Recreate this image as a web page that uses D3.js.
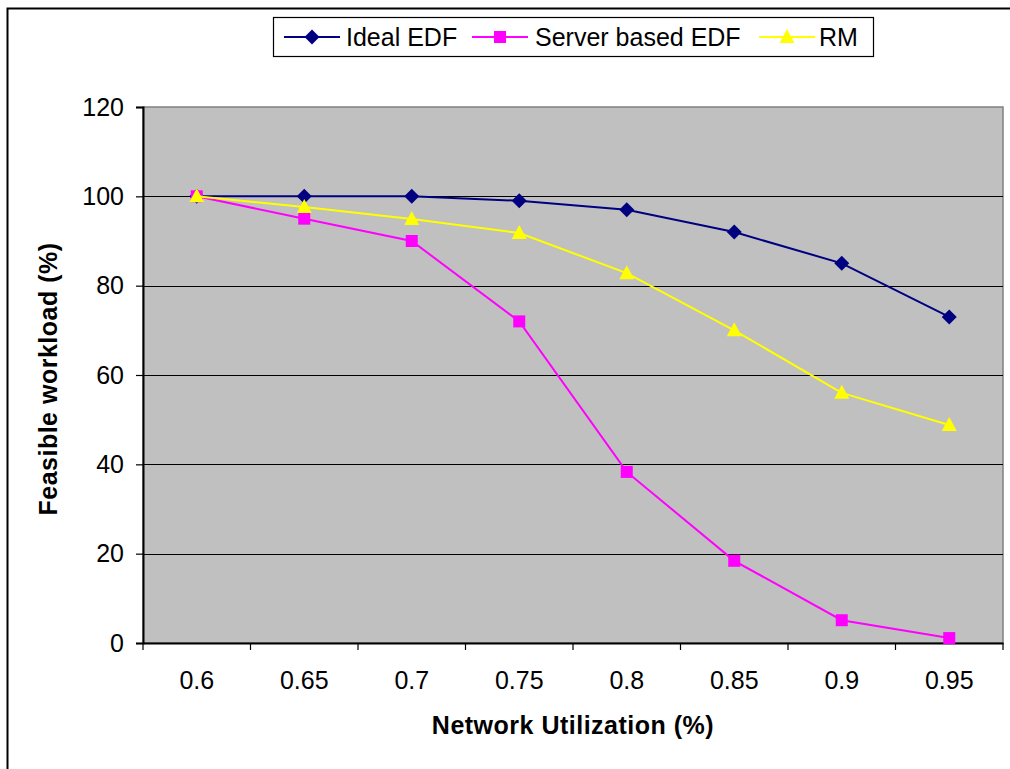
<!DOCTYPE html>
<html><head><meta charset="utf-8">
<script src="https://cdn.jsdelivr.net/npm/d3@7"></script>
<style>body{margin:0;background:#fff}svg{display:block}text{font-family:"Liberation Sans",Arial,sans-serif}</style>
</head><body>
<svg id="c" width="1010" height="769"></svg>
<script>
const categories = ["0.6","0.65","0.7","0.75","0.8","0.85","0.9","0.95"];
const idealEDF = [100,100,100,99,97,92,85,73];
const serverEDF = [100,95,90,72,38.3,18.4,5.1,1.1];
const rmValues = [100,97.6,94.9,91.8,82.8,70,56,48.8];
const yTicks = [0,20,40,60,80,100,120];
const seriesNames = ["Ideal EDF","Server based EDF","RM"];

const series = [
  {name:seriesNames[0], values:idealEDF, color:"#000080", marker:"diamond"},
  {name:seriesNames[1], values:serverEDF, color:"#FF00FF", marker:"square"},
  {name:seriesNames[2], values:rmValues, color:"#FFFF00", marker:"triangle"}
];

const svg = d3.select("#c");
const L=143, R=1003, T=107, B=643;
const FF = "Liberation Sans, Arial, sans-serif";

// outer border
svg.append("rect").attr("x",7.5).attr("y",8.5).attr("width",1100).attr("height",900)
  .attr("fill","none").attr("stroke","#000").attr("stroke-width",2);

const x = d3.scaleBand().domain(categories).range([L,R]).padding(0);
const y = d3.scaleLinear().domain([0,120]).range([B,T]);

svg.append("rect").attr("x",L).attr("y",T).attr("width",R-L).attr("height",B-T)
  .attr("fill","#C0C0C0").attr("stroke","#808080").attr("stroke-width",1.5);

// gridlines
svg.append("g").selectAll("line").data(yTicks.filter(d=>d>0&&d<120)).join("line")
  .attr("x1",L).attr("x2",R).attr("y1",d=>Math.round(y(d))+0.5).attr("y2",d=>Math.round(y(d))+0.5)
  .attr("stroke","#000").attr("stroke-width",1.2);

// y axis
const yAxis = svg.append("g").attr("transform",`translate(${L},0)`)
  .call(d3.axisLeft(y).tickValues(yTicks).tickSize(7).tickPadding(12).tickFormat(d3.format("d")));
yAxis.select(".domain").attr("stroke","#000").attr("stroke-width",2);
yAxis.selectAll(".tick line").attr("stroke","#000").attr("stroke-width",1.2);
yAxis.selectAll("text").attr("font-size",25).attr("fill","#000").attr("font-family",FF);

// x axis
const xAxis = svg.append("g").attr("transform",`translate(0,${B})`)
  .call(d3.axisBottom(x).tickSize(0).tickPadding(28));
xAxis.select(".domain").attr("stroke","#000").attr("stroke-width",2);
xAxis.selectAll("text").attr("font-size",25).attr("fill","#000").attr("font-family",FF);
// x tick marks at category boundaries
const bounds = categories.map(c=>x(c)).concat([x(categories[categories.length-1])+x.bandwidth()]);
svg.append("g").selectAll("line").data(bounds).join("line")
  .attr("x1",d=>d).attr("x2",d=>d).attr("y1",B).attr("y2",B+7)
  .attr("stroke","#000").attr("stroke-width",1.2);

// axis titles
svg.append("text").attr("x",(L+R)/2).attr("y",734).attr("text-anchor","middle")
  .attr("font-size",25).attr("font-weight","bold").attr("letter-spacing",0.5).text("Network Utilization (%)");
svg.append("text").attr("transform",`translate(57,379) rotate(-90)`).attr("text-anchor","middle")
  .attr("font-size",25).attr("font-weight","bold").attr("letter-spacing",0.5).text("Feasible workload (%)");

function drawMarker(g, type, color, cx, cy){
  if(type==="diamond"){
    g.append("path").attr("d",`M${cx},${cy-7.5}L${cx+7.5},${cy}L${cx},${cy+7.5}L${cx-7.5},${cy}Z`).attr("fill",color);
  } else if(type==="square"){
    g.append("rect").attr("x",cx-6).attr("y",cy-6).attr("width",12).attr("height",12).attr("fill",color);
  } else {
    g.append("path").attr("d",`M${cx},${cy-8}L${cx+7.5},${cy+6}L${cx-7.5},${cy+6}Z`).attr("fill",color);
  }
}

const line = d3.line().x((d,i)=>x(categories[i])+x.bandwidth()/2).y(d=>y(d));
series.forEach(s=>{
  const g = svg.append("g");
  g.append("path").datum(s.values).attr("d",line).attr("fill","none").attr("stroke",s.color).attr("stroke-width",2);
  s.values.forEach((v,i)=>drawMarker(g,s.marker,s.color,x(categories[i])+x.bandwidth()/2,y(v)));
});

// legend
const lg = svg.append("g");
lg.append("rect").attr("x",273.5).attr("y",17.5).attr("width",600).attr("height",39)
  .attr("fill","#fff").attr("stroke","#000").attr("stroke-width",1.2);
const legendPos = [{lx:284, tx:346},{lx:472, tx:535},{lx:759, tx:819}];
series.forEach((s,i)=>{
  const p = legendPos[i];
  lg.append("line").attr("x1",p.lx).attr("x2",p.lx+56).attr("y1",37).attr("y2",37).attr("stroke",s.color).attr("stroke-width",2);
  drawMarker(lg,s.marker,s.color,p.lx+28,37);
  lg.append("text").attr("x",p.tx).attr("y",46).attr("font-size",25).text(s.name);
});
</script>
</body></html>
